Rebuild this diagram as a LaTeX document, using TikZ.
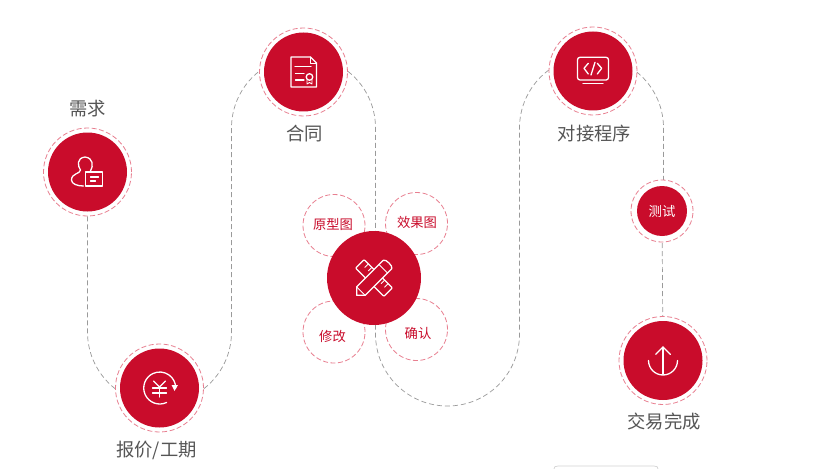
\documentclass[tikz,border=0pt]{standalone}
\usepackage{fontspec}
\setmainfont{Noto Sans CJK SC}
\usetikzlibrary{backgrounds}
\definecolor{brandred}{HTML}{C90C2B}
\definecolor{ringred}{HTML}{E87F90}
\definecolor{linegrey}{HTML}{9A9A9A}
\definecolor{labelgrey}{HTML}{555555}
\tikzset{
  x=1pt,y=-1pt,
  bigstep/.style={circle,fill=brandred,inner sep=0pt,minimum size=79pt},
  ringmark/.style={circle,draw=ringred,fill=white,line width=.8pt,dash pattern=on 5pt off 2.5pt,inner sep=0pt},
  bigring/.style={ringmark,minimum size=88pt},
  bubble/.style={ringmark,minimum size=62pt},
  conn/.style={draw=linegrey,line width=.7pt,dash pattern=on 5pt off 3pt},
  steplabel/.style={text=labelgrey,font=\fontsize{18.3}{20}\selectfont,inner sep=0pt},
  bubblelabel/.style={text=brandred,font=\fontsize{13.3}{15}\selectfont,inner sep=0pt},
  icon/.style={draw=white,line width=1.3pt,line cap=round,line join=round},
}
\begin{document}
\begin{tikzpicture}
\useasboundingbox (0,0) rectangle (818,468);

% rings and discs
\node[bigring] (needring) at (87.5,172) {};
\node[bigring] (quotering) at (159.5,388) {};
\node[bigring] (contractring) at (303.5,72) {};
\node[bigring] (programring) at (593,71) {};
\node[bigring] (deliverring) at (663,360.5) {};
\node[ringmark,minimum size=62pt] (testring) at (662,211) {};

\node[bubble] (proto) at (334,225.5) {};
\node[bubble] (effect) at (416.5,223.5) {};
\node[bubble] (revise) at (334,332) {};
\node[bubble] (confirm) at (416.5,329.5) {};

\node[bigstep] (need) at (needring) {};
\node[bigstep] (quote) at (quotering) {};
\node[bigstep] (contract) at (contractring) {};
\node[bigstep] (program) at (programring) {};
\node[bigstep] (deliver) at (deliverring) {};
\node[circle,fill=brandred,inner sep=0pt,minimum size=50pt,text=white,font=\fontsize{13.3}{15}\selectfont] (test) at (testring) {测试};
\node[circle,fill=brandred,inner sep=0pt,minimum size=94pt] (design) at (374,278) {};

% connectors
\begin{scope}[on background layer]
\fill[white] (0,0) rectangle (818,468);
\draw[conn] (needring.south) -- (87.5,332) arc[start angle=180,end angle=270,radius=72pt] -- (quotering.center);
\draw[conn] (quotering.center) -- (159.5,404) arc[start angle=270,end angle=360,radius=72pt] -- (231.5,128) arc[start angle=180,end angle=90,radius=72pt] -- (contractring.center);
\draw[conn] (contractring.center) -- (303.5,56) arc[start angle=90,end angle=0,radius=72pt] -- (375.5,278) -- (design.center);
\draw[conn] (design.center) -- (375.5,278) -- (375.5,334) arc[start angle=180,end angle=360,radius=72pt] -- (519.5,128) arc[start angle=180,end angle=90,radius=72pt] -- (programring.center);
\draw[conn] (programring.center) -- (591.5,56) arc[start angle=90,end angle=0,radius=72pt] -- (663.5,180);
\draw[conn] (663.5,180) -- (testring.center);
\draw[conn] (testring.center) -- (deliverring.center);
\end{scope}

% faint box edge at the bottom
\draw[gray!35,line width=.7pt] (554,469) .. controls (554,467) and (555,466) .. (558,466) -- (654,466) .. controls (657,466) and (658,467) .. (658,469);

% labels
\node[steplabel] (l1) at (87.5,108.5) {需求};
\node[steplabel] (l2) at (156.5,450) {报价/工期};
\node[steplabel] (l3) at (304.5,134) {合同};
\node[steplabel] (l4) at (594.5,134) {对接程序};
\node[steplabel] (l5) at (664,422) {交易完成};
\node[bubblelabel] (b1) at (333,224) {原型图};
\node[bubblelabel] (b2) at (417,222.5) {效果图};
\node[bubblelabel] (b3) at (332.5,336) {修改};
\node[bubblelabel] (b4) at (418,333) {确认};

% icon: person with card
\begin{scope}[shift={(need.center)}]
\draw[icon] (3,-1) .. controls (6,-6) and (6,-14) .. (-2.5,-15) .. controls (-11,-14) and (-10,-6) .. (-7,-2) .. controls (-7,2) and (-16,1) .. (-16,8) .. controls (-16,12) and (-10,14) .. (-4,14);
\draw[icon] (-2,0) rectangle (15,14);
\draw[icon] (3,5) -- (11,5);
\draw[icon] (3,9) -- (8,9);
\end{scope}

% icon: yen with rotating arrow
\begin{scope}[shift={(quote.center)}]
\draw[icon] (7,14.5) arc[start angle=-65,end angle=-360,radius=16pt];
\fill[white] (12,-3) -- (18.5,-3) -- (15,3) -- cycle;
\draw[icon] (-6,-7) -- (0,-1) -- (6,-7);
\draw[icon] (0,-1) -- (0,9);
\draw[icon] (-7,0) -- (7,0);
\draw[icon] (-7,5) -- (7,5);
\end{scope}

% icon: contract
\begin{scope}[shift={(contract.center)}]
\draw[icon] (13,-9) -- (7,-15) -- (-12.5,-15) -- (-12.5,15) -- (13,15) -- cycle;
\draw[icon,line width=.8pt] (7,-15) -- (7,-9) -- (13,-9);
\draw[icon] (-8.5,-5.5) -- (7.5,-5.5);
\draw[icon] (-8,1.3) -- (.5,1.3);
\draw[icon] (-8,8) -- (.5,8);
\draw[icon] (6,5) circle[radius=3.3pt];
\draw[icon,line width=.9pt] (3.5,8) -- (3.5,12) -- (6,10.5) -- (8.5,12) -- (8.5,8);
\end{scope}

% icon: ruler and pencil
\begin{scope}[shift={(design.center)},rotate=-45]
\draw[icon,rounded corners=1pt] (-20,-6) rectangle (20,6);
\foreach \t in {-14,-9,9,14}{\draw[icon,line width=.9pt] (\t,-6) -- (\t,-1);}
\end{scope}
\begin{scope}[shift={(design.center)},rotate=45]
\draw[icon,fill=brandred] (-18.5,-6) -- (19,-6) .. controls (22,-6) and (22,6) .. (19,6) -- (-18.5,6) -- (-24.5,0) -- cycle;
\draw[icon,line width=.9pt] (13,-6) -- (13,6);
\draw[icon,line width=.9pt] (-18.5,-6) -- (-18.5,6);
\end{scope}

% icon: monitor with code
\begin{scope}[shift={(program.center)}]
\draw[icon,rounded corners=2.5pt] (-15.5,-13.7) rectangle (15.5,9);
\draw[icon] (-10,12.5) -- (10,12.5);
\draw[icon] (-4.7,-7.7) -- (-9,-2.7) -- (-4.7,3);
\draw[icon] (4.3,-7.7) -- (8.7,-2.7) -- (4.3,3);
\draw[icon] (2,-8.7) -- (-2,4);
\end{scope}

% icon: upload
\begin{scope}[shift={(deliver.center)}]
\draw[icon] (-14.5,0) arc[start angle=180,end angle=360,radius=14.5pt];
\draw[icon] (0,-13.5) -- (0,14);
\draw[icon] (-7.3,-6.2) -- (0,-13.5) -- (7.3,-6.2);
\end{scope}
\end{tikzpicture}
\end{document}
